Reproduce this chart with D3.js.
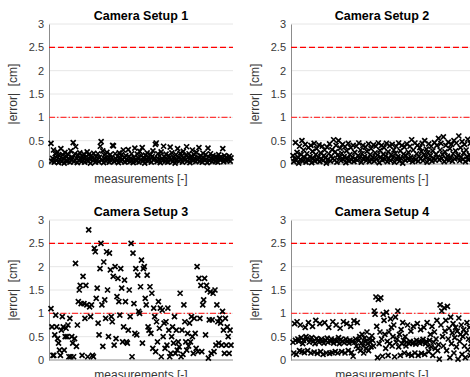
<!DOCTYPE html>
<html>
<head>
<meta charset="utf-8">
<script src="https://cdnjs.cloudflare.com/ajax/libs/d3/7.8.5/d3.min.js"></script>
<style>
  body { margin: 0; background: #fff; }
  svg { display: block; font-family: "Liberation Sans", Arial, sans-serif; }
</style>
</head>
<body>
<script>
//titles of the four subplots
var titles = ["Camera Setup 1", "Camera Setup 2", "Camera Setup 3", "Camera Setup 4"];

//y ticks and the two reference lines
var yTicks = [0, 0.5, 1, 1.5, 2, 2.5, 3];
var limitDash = 2.5;
var limitDashDot = 1;

var setup1 = [0.44,0.06,0.12,0.3,0.04,0.22,0.15,0.08,0.26,0.03,0.18,0.1,0.33,0.05,0.2,0.12,0.02,0.25,0.08,0.16,
  0.06,0.2,0.11,0.04,0.28,0.09,0.14,0.46,0.05,0.22,0.37,0.12,0.03,0.19,0.08,0.24,0.1,0.05,0.17,0.13,
  0.21,0.04,0.15,0.09,0.26,0.06,0.2,0.11,0.02,0.18,0.13,0.07,0.23,0.1,0.04,0.16,0.08,0.22,0.05,0.14,
  0.38,0.48,0.09,0.28,0.03,0.19,0.12,0.06,0.25,0.1,0.15,0.04,0.2,0.07,0.13,0.4,0.39,0.05,0.22,0.11,
  0.08,0.17,0.03,0.24,0.12,0.06,0.2,0.09,0.3,0.14,0.04,0.18,0.1,0.07,0.31,0.16,0.05,0.12,0.22,0.08,
  0.03,0.15,0.34,0.1,0.06,0.21,0.13,0.04,0.27,0.09,0.18,0.35,0.07,0.12,0.02,0.19,0.11,0.24,0.06,0.14,
  0.09,0.2,0.04,0.16,0.28,0.08,0.13,0.42,0.45,0.05,0.22,0.1,0.17,0.03,0.26,0.12,0.07,0.38,0.15,0.06,
  0.21,0.1,0.04,0.18,0.13,0.36,0.08,0.24,0.05,0.15,0.11,0.02,0.2,0.09,0.33,0.14,0.06,0.23,0.1,0.17,
  0.04,0.27,0.12,0.08,0.19,0.37,0.06,0.14,0.22,0.03,0.16,0.1,0.3,0.07,0.2,0.12,0.05,0.25,0.09,0.15,
  0.35,0.06,0.18,0.11,0.04,0.23,0.13,0.08,0.2,0.1,0.03,0.34,0.15,0.07,0.22,0.12,0.05,0.18,0.09,0.14,
  0.06,0.16,0.1,0.04,0.2,0.13,0.08,0.15,0.11,0.33,0.05,0.18,0.09,0.14,0.07,0.12,0.1,0.17,0.06,0.13];

var setup2 = [0.18,0.05,0.12,0.46,0.08,0.25,0.15,0.02,0.38,0.1,0.2,0.5,0.06,0.3,0.14,0.42,0.04,0.22,0.1,0.35,
  0.08,0.16,0.4,0.03,0.27,0.12,0.44,0.06,0.2,0.33,0.09,0.15,0.41,0.05,0.24,0.11,0.38,0.07,0.18,0.3,
  0.13,0.02,0.36,0.1,0.22,0.43,0.06,0.17,0.31,0.12,0.52,0.08,0.26,0.4,0.04,0.19,0.5,0.14,0.34,0.07,
  0.23,0.42,0.1,0.16,0.37,0.03,0.28,0.12,0.44,0.06,0.2,0.35,0.09,0.15,0.4,0.05,0.25,0.11,0.38,0.08,
  0.18,0.45,0.13,0.3,0.04,0.22,0.4,0.1,0.16,0.36,0.07,0.27,0.12,0.43,0.05,0.2,0.33,0.09,0.15,0.41,
  0.06,0.24,0.38,0.11,0.19,0.45,0.03,0.29,0.14,0.4,0.08,0.21,0.35,0.1,0.17,0.44,0.05,0.26,0.12,0.39,
  0.07,0.2,0.42,0.13,0.3,0.04,0.23,0.38,0.1,0.16,0.45,0.06,0.28,0.12,0.4,0.02,0.21,0.36,0.09,0.18,
  0.43,0.11,0.25,0.08,0.38,0.15,0.52,0.05,0.3,0.13,0.45,0.09,0.22,0.4,0.06,0.17,0.35,0.11,0.27,0.44,
  0.07,0.2,0.5,0.14,0.32,0.04,0.24,0.43,0.1,0.18,0.38,0.06,0.28,0.12,0.46,0.08,0.21,0.4,0.15,0.55,
  0.09,0.3,0.44,0.12,0.2,0.58,0.05,0.26,0.4,0.1,0.17,0.47,0.08,0.33,0.14,0.42,0.06,0.22,0.5,0.11,
  0.28,0.45,0.13,0.19,0.6,0.07,0.35,0.15,0.48,0.1,0.24,0.42,0.05,0.3,0.16,0.53,0.09,0.2,0.44,0.12];

var setup3 = [1.1,0.71,0.1,0.1,0.54,0.96,0.71,0.46,0.36,0.21,0.1,0.64,0.93,0.71,0.21,0.5,0.68,0.5,0.75,0.07,
  0.89,0.07,0.5,0.36,0.07,0.46,2.07,0.29,0.75,1.25,1.5,1.6,1.21,0.1,1.79,1.21,0.89,1.6,1.18,0.07,
  2.79,1.14,0.93,1.18,0.1,0.07,2.39,2.32,1.32,1.54,0.79,0.54,1.96,2.5,1.18,0.29,2.1,1.29,0.89,2.32,
  1.5,0.5,2.29,1.93,0.93,0.82,1.79,0.32,2.0,0.46,1.36,1.75,1.25,0.96,1.96,1.54,0.39,0.71,1.71,1.25,
  0.39,0.36,0.64,1.5,0.93,2.5,0.07,2.29,1.21,0.57,1.96,0.54,1.82,1.04,1.0,1.57,2.14,0.36,1.96,2.0,
  1.32,1.18,1.82,0.71,0.64,1.57,0.57,1.43,0.25,1.11,0.93,0.18,0.82,0.39,1.25,0.68,1.11,0.07,1.07,0.5,
  0.79,0.25,0.82,0.32,1.11,0.64,0.07,0.14,0.5,0.71,0.36,0.93,0.14,0.64,0.21,0.39,0.28,1.43,0.07,0.64,
  0.12,1.18,0.82,0.39,0.21,0.57,0.3,0.79,0.39,0.93,0.5,0.14,0.89,0.57,0.25,2.0,0.18,1.75,0.89,1.6,
  0.18,1.18,1.29,1.75,0.54,1.6,1.5,0.04,0.86,1.46,0.14,0.86,1.43,0.18,1.5,0.32,1.18,0.82,0.36,0.89,
  0.79,0.32,1.04,0.64,0.14,0.89,0.32,0.71,0.5,0.14,0.64,0.32];

var setup4 = [0.38,0.15,0.78,0.42,0.12,0.82,0.45,0.4,0.2,0.75,0.48,0.18,0.35,0.42,0.16,0.7,0.5,0.45,0.2,0.8,
  0.38,0.44,0.15,0.48,0.72,0.4,0.17,0.35,0.85,0.46,0.14,0.42,0.38,0.78,0.18,0.45,0.4,0.12,0.36,0.8,
  0.42,0.15,0.47,0.38,0.7,0.14,0.4,0.45,0.16,0.82,0.36,0.43,0.18,0.75,0.4,0.15,0.48,0.35,0.68,0.44,
  0.18,0.4,0.82,0.37,0.15,0.45,0.78,0.4,0.2,0.36,0.42,0.72,0.16,0.4,0.08,0.84,0.38,0.45,0.3,0.8,
  0.25,0.42,0.5,0.2,0.36,0.55,0.3,0.15,0.47,0.4,0.25,0.6,0.35,0.2,0.45,0.38,0.28,0.52,0.42,0.3,
  1.05,0.98,1.35,0.72,0.05,1.3,0.35,0.6,1.33,0.45,0.08,0.98,0.85,0.55,0.25,1.02,0.4,0.1,0.6,0.35,
  0.88,0.7,0.3,0.5,0.75,0.07,0.92,0.38,0.45,1.05,0.28,0.55,0.1,0.65,0.35,0.8,0.42,0.15,0.5,0.3,
  0.38,0.75,0.12,0.35,0.4,0.62,0.1,0.36,0.72,0.38,0.15,0.34,0.42,0.78,0.1,0.4,0.36,0.65,0.14,0.38,
  0.44,0.7,0.12,0.35,0.4,0.8,0.3,0.18,0.42,0.55,0.28,0.72,0.1,0.38,0.6,0.25,0.45,0.85,0.2,0.33,
  0.02,1.18,0.75,1.05,0.5,0.3,1.12,0.62,0.85,0.2,1.15,0.45,0.68,0.05,0.92,0.35,0.58,0.78,0.15,0.48,
  0.7,0.28,0.62,0.02,0.9,0.4,0.55,0.75,0.12,0.5,0.65,0.3,0.05,0.58,0.8,0.22,0.45,0.7,0.1,0.35];

var allSetups = [setup1, setup2, setup3, setup4];

var width = 470, height = 377;

//axes boxes of the 2x2 grid (the right column runs past the window edge)
var cols = [{left: 49, right: 233}, {left: 291, right: 473}];
var rows = [{top: 24, bottom: 164}, {top: 220, bottom: 360}];

var svg = d3.select("body").append("svg")
    .attr("width", width)
    .attr("height", height);

allSetups.forEach(function(data, i){
  var c = cols[i % 2], r = rows[Math.floor(i / 2)];
  drawPanel(data, titles[i], c, r);
});

function drawPanel(data, title, c, r){

  var x = d3.scaleLinear()
      .domain([0, data.length - 1])
      .range([c.left + 2, c.right - 2]);

  var y = d3.scaleLinear()
      .domain([0, 3])
      .range([r.bottom, r.top]);

  var g = svg.append("g");

  //horizontal grid
  g.selectAll(".grid")
    .data(yTicks.filter(function(d){ return d > 0; }))
    .enter()
    .append("line")
    .attr("x1", c.left).attr("x2", c.right)
    .attr("y1", function(d){ return y(d); })
    .attr("y2", function(d){ return y(d); })
    .attr("stroke", "#e6e6e6")
    .attr("stroke-width", 1);

  //y axis, MATLAB style with no visible ticks
  var yAxis = d3.axisLeft(y)
      .tickValues(yTicks)
      .tickSize(0)
      .tickPadding(5)
      .tickFormat(d3.format("~g"));

  var ax = g.append("g")
      .attr("transform", "translate(" + c.left + ",0)")
      .call(yAxis);
  ax.select(".domain").attr("stroke", "#8c8c8c");
  ax.selectAll("text")
      .attr("fill", "#383838")
      .style("font-size", "11px");

  //bottom axis line only
  g.append("line")
    .attr("x1", c.left).attr("x2", c.right)
    .attr("y1", r.bottom).attr("y2", r.bottom)
    .attr("stroke", "#8c8c8c");

  //red limit lines
  g.append("line")
    .attr("x1", c.left).attr("x2", c.right)
    .attr("y1", y(limitDash)).attr("y2", y(limitDash))
    .attr("stroke", "#ff0000")
    .attr("stroke-width", 1.3)
    .attr("stroke-dasharray", "6,3");

  g.append("line")
    .attr("x1", c.left).attr("x2", c.right)
    .attr("y1", y(limitDashDot)).attr("y2", y(limitDashDot))
    .attr("stroke", "#ff3a3a")
    .attr("stroke-width", 1.3)
    .attr("stroke-dasharray", "6,2,1.5,2");

  //x markers
  var s = 2.5;
  g.selectAll(".pt")
    .data(data)
    .enter()
    .append("path")
    .attr("class", "pt")
    .attr("d", function(d, j){
      var px = x(j), py = y(d);
      return "M" + (px - s) + "," + (py - s) + "L" + (px + s) + "," + (py + s) +
             "M" + (px - s) + "," + (py + s) + "L" + (px + s) + "," + (py - s);
    })
    .attr("stroke", "#000")
    .attr("stroke-width", 1.7)
    .attr("fill", "none");

  //title
  var cx = (c.left + c.right) / 2;
  g.append("text")
    .attr("x", cx)
    .attr("y", r.top - 4)
    .attr("text-anchor", "middle")
    .style("font-size", "12.5px")
    .style("font-weight", "bold")
    .attr("fill", "#000")
    .text(title);

  //axis labels
  g.append("text")
    .attr("x", cx)
    .attr("y", r.bottom + 19)
    .attr("text-anchor", "middle")
    .style("font-size", "12px")
    .attr("fill", "#383838")
    .text("measurements [-]");

  g.append("text")
    .attr("transform", "translate(" + (c.left - 32) + "," + ((r.top + r.bottom) / 2) + ") rotate(-90)")
    .attr("text-anchor", "middle")
    .style("font-size", "12px")
    .attr("fill", "#383838")
    .attr("xml:space", "preserve")
    .text("|error|  [cm]");
};
</script>
</body>
</html>
